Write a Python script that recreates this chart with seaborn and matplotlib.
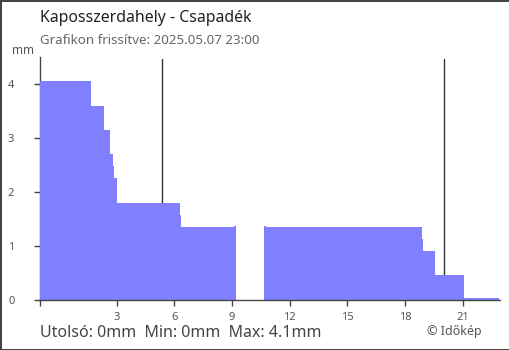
import numpy as np
import pandas as pd
import matplotlib
matplotlib.use("Agg")
import matplotlib.pyplot as plt
import seaborn as sns

# step edges (hours) and precipitation per step (mm)
edges = [-1, 1.65, 2.33, 2.64, 2.78, 2.85, 3.0, 6.28, 6.33, 9.09, 9.19,
         10.65, 10.75, 18.9, 18.95, 19.58, 21.1, 22.9]
values = [4.06, 3.59, 3.15, 2.70, 2.48, 2.26, 1.79, 1.57, 1.35, 1.37, 0.0,
          1.37, 1.35, 1.13, 0.91, 0.46, 0.045]
markers = [5.36, 20.02]
xticks = [-1, 3, 6, 9, 12, 15, 18, 21]
xlabels = ["", "3", "6", "9", "12", "15", "18", "21"]
yticks = [0, 1, 2, 3, 4]

sns.set_style("white")
plt.rcParams["font.family"] = ["Noto Sans", "DejaVu Sans"]

df = pd.DataFrame({
    "mid": [(a + b) / 2 for a, b in zip(edges[:-1], edges[1:])],
    "mm": values,
})

fig = plt.figure(figsize=(5.1, 3.5), dpi=100, facecolor="white",
                 edgecolor="#444444", linewidth=2)
ax = fig.add_axes([40 / 510, 1 - 300 / 350, 460 / 510, 243 / 350])

for m in markers:
    ax.axvline(m, ymax=0.99, color="#333333", lw=1, zorder=0.5)

sns.histplot(data=df, x="mid", weights="mm", bins=edges, element="step",
             fill=True, color="#8080ff", alpha=1, linewidth=0, ax=ax)

ax.set_xlim(-1, 22.95)
ax.set_ylim(0, 4.5)
ax.set_xlabel("")
ax.set_ylabel("")
ax.set_xticks(xticks)
ax.set_xticklabels(xlabels)
ax.set_yticks(yticks)

for s in ["top", "right"]:
    ax.spines[s].set_visible(False)
for s in ["left", "bottom"]:
    ax.spines[s].set_color("#444444")
    ax.spines[s].set_linewidth(1)
ax.spines["left"].set_zorder(0.4)

ax.tick_params(axis="x", length=4, width=1, color="#444444", pad=5,
               labelsize=8, labelcolor="#555555", direction="out", bottom=True)
ax.tick_params(axis="y", length=4.5, width=1, color="#444444", pad=14,
               labelsize=8, labelcolor="#555555", direction="out", left=True)

fig.text(40 / 510, 1 - 18 / 350, "Kaposszerdahely - Csapadék", fontsize=11.4,
         color="#222222", va="center", ha="left")
fig.text(40 / 510, 1 - 41 / 350, "Grafikon frissítve: 2025.05.07 23:00",
         fontsize=9.6, color="#666666", va="center", ha="left")
fig.text(23 / 510, 1 - 50 / 350, "mm", fontsize=8.5, color="#555555",
         va="center", ha="center")
fig.text(40 / 510, 1 - 333 / 350, "Utolsó: 0mm  Min: 0mm  Max: 4.1mm",
         fontsize=11.5, color="#444444", va="center", ha="left")
fig.text(482 / 510, 1 - 332 / 350, "© Időkép", fontsize=9, color="#555555",
         va="center", ha="right")

fig.savefig("out.png", dpi=100)
